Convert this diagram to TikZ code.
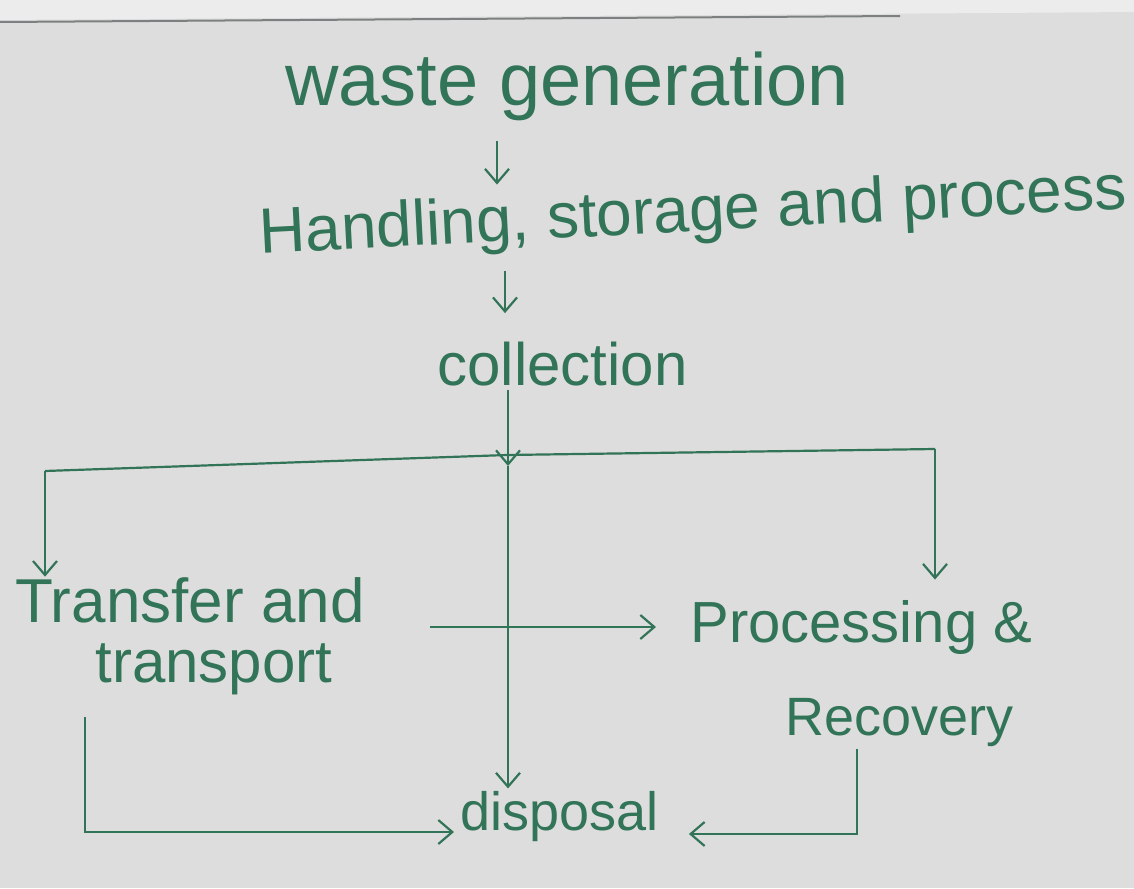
\documentclass[tikz,border=0pt]{standalone}
\usepackage{fontspec}
\setmainfont{Liberation Sans}
\usetikzlibrary{arrows.meta,calc}
\definecolor{ink}{RGB}{50,116,88}
\definecolor{paper}{RGB}{222,221,222}
\definecolor{paperlight}{RGB}{236,236,236}
\definecolor{ruleline}{RGB}{125,128,128}
\begin{document}
\begin{tikzpicture}[x=0.5pt,y=-0.5pt,
  txt/.style={text=ink, inner sep=0pt, anchor=base west},
  link/.style={draw=ink, line width=1.1pt},
  arr/.style={link, -{Straight Barb[length=7pt,width=12pt,line width=1.1pt]}}]
\fill[paper] (0,0) rectangle (1134,888);
\fill[paperlight] (0,0) -- (1134,0) -- (1134,12) -- (0,20) -- cycle;
\useasboundingbox (0,0) rectangle (1134,888);
\draw[ruleline, line width=1pt] (0,22) -- (900,16);

% texts
\node[txt, font=\fontsize{37}{40}\selectfont] (gen) at (285,105) {waste generation};
\node[txt, font=\fontsize{32}{36}\selectfont, rotate=3] (hand) at (260,254) {Handling, storage and process};
\node[txt, font=\fontsize{30}{34}\selectfont] (coll) at (437,385) {collection};
\node[txt, font=\fontsize{31}{34}\selectfont] (trans) at (15,622) {Transfer and};
\node[txt, font=\fontsize{30}{34}\selectfont] (transb) at (95,682) {transport};
\node[txt, font=\fontsize{29}{32}\selectfont] (proc) at (690,642) {Processing \&};
\node[txt, font=\fontsize{27}{30}\selectfont] (procb) at (785,735) {Recovery};
\node[txt, font=\fontsize{27}{30}\selectfont] (disp) at (460,830) {disposal};

% coordinates
\coordinate (c1) at (497,0);
\coordinate (c2) at (505,0);
\coordinate (jn) at (507,455);
\coordinate (tip1) at (508,466);
\coordinate (lc) at (45,471);
\coordinate (rc) at (935,449);
\coordinate (h1) at (430,627);
\coordinate (bl) at (85,832);
\coordinate (br) at (857,834);

% connectors
\draw[arr, shorten <=10pt, shorten >=0pt] (gen.south -| c1) -- (hand.north -| c1);
\draw[arr, shorten <=13pt, shorten >=14pt] (hand.south -| c2) -- (coll.north -| c2);
\draw[arr, shorten <=2pt] (coll.south -| tip1) -- (tip1);
\draw[arr, shorten >=1pt] (tip1) -- (disp.north -| tip1);
\draw[link] (lc) -- (jn) -- (rc);
\draw[arr] (lc) -- (trans.north -| lc);
\draw[arr, shorten >=10pt] (rc) -- (proc.north -| rc);
\draw[arr, shorten >=17pt] (h1) -- (proc.west |- h1);
\draw[arr, shorten <=11pt, shorten >=3pt] (transb.south -| bl) -- (bl) -- (disp.west |- bl);
\draw[arr, shorten <=1pt, shorten >=15pt] (procb.south -| br) -- (br) -- (disp.east |- br);
\end{tikzpicture}
\end{document}
